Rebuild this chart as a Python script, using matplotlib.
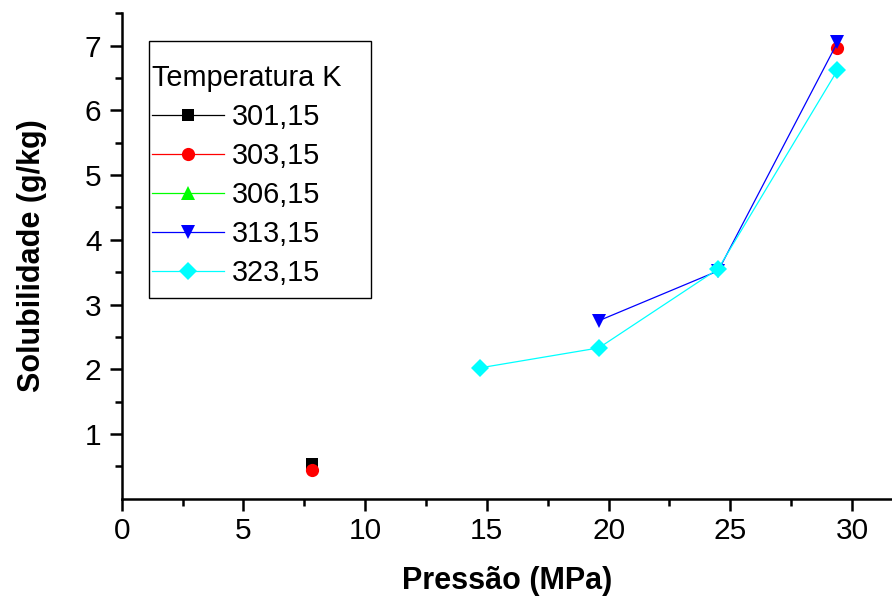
import numpy as np
import matplotlib.pyplot as plt
from matplotlib.ticker import MultipleLocator, FixedLocator
from matplotlib.patches import Rectangle

# pressao (MPa) e solubilidade (g/kg) por temperatura
pressao = [7.8, 14.7, 19.6, 24.5, 29.4]
nan = np.nan
sol_301 = [0.53, nan, nan, nan, nan]
sol_303 = [0.45, nan, nan, nan, 6.97]
sol_306 = [nan, nan, nan, nan, nan]
sol_313 = [nan, nan, 2.75, 3.52, 7.05]
sol_323 = [nan, 2.02, 2.33, 3.55, 6.62]

labels = ['301,15', '303,15', '306,15', '313,15', '323,15']
series = [sol_301, sol_303, sol_306, sol_313, sol_323]
cores = ['black', 'red', '#00ff00', 'blue', 'cyan']
marcadores = ['s', 'o', '^', 'v', 'D']
tamanhos = [8, 9.5, 10.5, 10.5, 9]

plt.rcParams['font.family'] = ['Liberation Sans', 'DejaVu Sans']

fig = plt.figure(figsize=(8.92, 6.03), dpi=100)
ax = fig.add_axes([0.1364, 0.1730, 0.8636, 0.8050])

for y, lab, c, m, ms in zip(series, labels, cores, marcadores, tamanhos):
    ax.plot(pressao, y, color=c, marker=m, markersize=ms, linewidth=0.9,
            markeredgewidth=0, label=lab)

ax.set_xlim(0, 31.64)
ax.set_ylim(0, 7.5)
ax.xaxis.set_major_locator(MultipleLocator(5))
ax.xaxis.set_minor_locator(MultipleLocator(2.5))
ax.yaxis.set_major_locator(FixedLocator([1, 2, 3, 4, 5, 6, 7]))
ax.yaxis.set_minor_locator(FixedLocator(np.arange(0.5, 7.6, 1.0)))

for s in ['top', 'right']:
    ax.spines[s].set_visible(False)
for s in ['left', 'bottom']:
    ax.spines[s].set_linewidth(1.8)

ax.tick_params(which='major', length=8.5, width=1.8, labelsize=21.5)
ax.tick_params(axis='x', which='major', pad=5)
ax.tick_params(axis='y', which='major', pad=6)
ax.tick_params(which='minor', length=5, width=1.8)

ax.set_xlabel('Pressão (MPa)', fontsize=22, fontweight='bold', labelpad=15)
ax.set_ylabel('Solubilidade (g/kg)', fontsize=22, fontweight='bold', labelpad=27)

# moldura da legenda
fig.patches.append(Rectangle((149 / 892, 1 - 298 / 603), 222 / 892, 257 / 603,
                             transform=fig.transFigure, fill=False,
                             edgecolor='black', linewidth=1.0))

leg = ax.legend(title='Temperatura K', loc='upper left',
                bbox_to_anchor=(152 / 892, 1 - 64 / 603),
                bbox_transform=fig.transFigure, fontsize=20.8, title_fontsize=20.8,
                frameon=False, handlelength=2.5, handletextpad=0.28,
                labelspacing=0.38, borderpad=0, borderaxespad=0,
                alignment='left')

fig.savefig('out.png', dpi=100)
